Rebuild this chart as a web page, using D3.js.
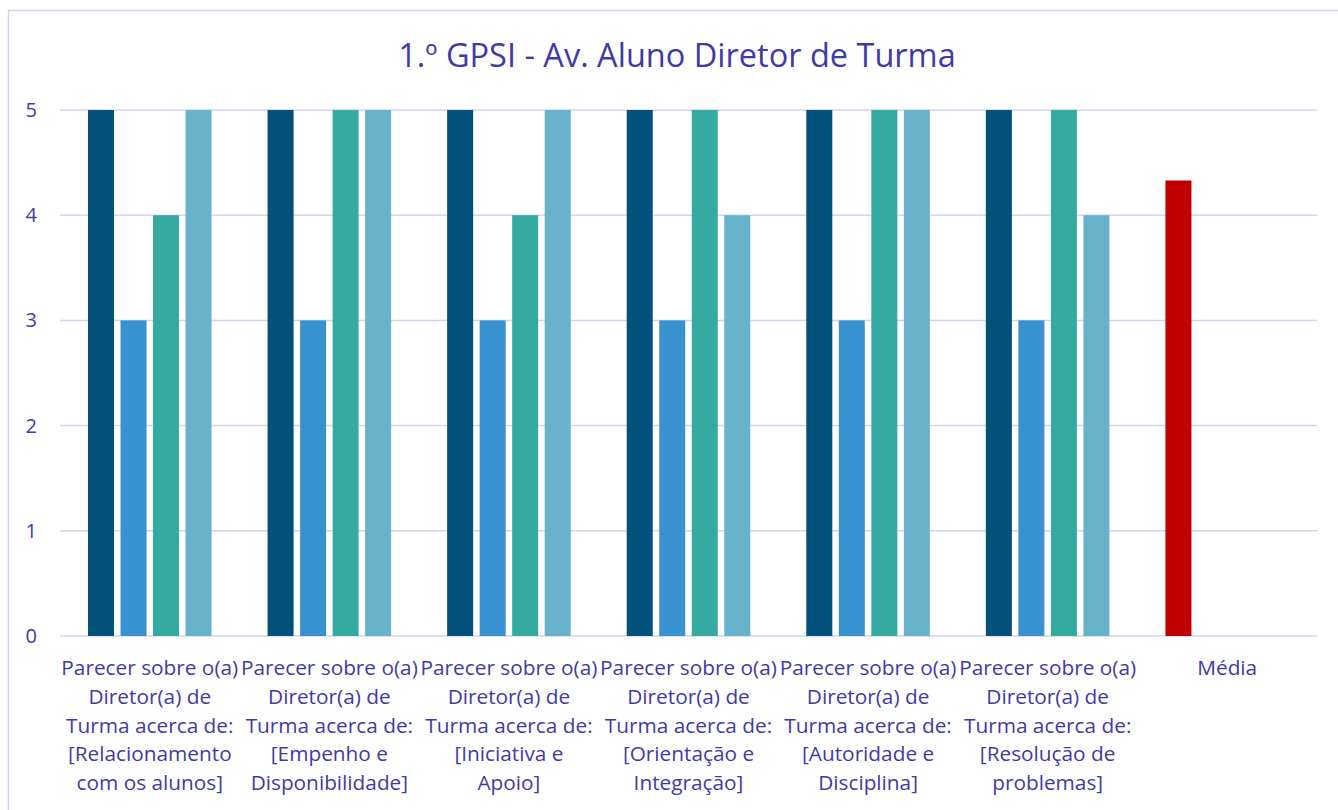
<!DOCTYPE html>
<html>
<head>
<meta charset="utf-8">
<script src="https://cdn.jsdelivr.net/npm/d3@7"></script>
<style>
  body { margin: 0; background: #fff; }
  text { font-family: "Open Sans", sans-serif; fill: #3f3ba6; }
</style>
</head>
<body>
<div class="chart"></div>
<script>
var title = "1.º GPSI - Av. Aluno Diretor de Turma";

var categories = ["Relacionamento", "Empenho", "Iniciativa", "Orientacao", "Autoridade", "Resolucao", "Media"];

var categoryLabels = [
    ["Parecer sobre o(a)", "Diretor(a) de", "Turma acerca de:", "[Relacionamento", "com os alunos]"],
    ["Parecer sobre o(a)", "Diretor(a) de", "Turma acerca de:", "[Empenho e", "Disponibilidade]"],
    ["Parecer sobre o(a)", "Diretor(a) de", "Turma acerca de:", "[Iniciativa e", "Apoio]"],
    ["Parecer sobre o(a)", "Diretor(a) de", "Turma acerca de:", "[Orientação e", "Integração]"],
    ["Parecer sobre o(a)", "Diretor(a) de", "Turma acerca de:", "[Autoridade e", "Disciplina]"],
    ["Parecer sobre o(a)", "Diretor(a) de", "Turma acerca de:", "[Resolução de", "problemas]"],
    ["Média"]
];

var series1 = [5, 5, 5, 5, 5, 5, 4.33];
var series2 = [3, 3, 3, 3, 3, 3, null];
var series3 = [4, 5, 4, 5, 5, 5, null];
var series4 = [5, 5, 5, 4, 5, 4, null];

var seriesList = [series1, series2, series3, series4];
var seriesColors = ["#02517a", "#3892cf", "#35aaa1", "#67b3cb"];
var meanColor = "#c00000";

var yTicks = [0, 1, 2, 3, 4, 5];

var svgWidth = 1338;
var svgHeight = 810;

var margin = { top: 110, right: 21, bottom: 174, left: 60 };
var width = svgWidth - margin.left - margin.right;
var height = svgHeight - margin.top - margin.bottom;

var svg = d3.select(".chart")
    .append("svg")
    .attr("width", svgWidth)
    .attr("height", svgHeight);

// outer frame
svg.append("rect")
    .attr("x", 8.5)
    .attr("y", 10.5)
    .attr("width", 1340)
    .attr("height", 820)
    .attr("fill", "none")
    .attr("stroke", "#d2cfef")
    .attr("stroke-width", 1.5);

svg.append("text")
    .attr("x", 677)
    .attr("y", 67)
    .attr("text-anchor", "middle")
    .style("font-size", "32.5px")
    .text(title);

var chartGroup = svg.append("g")
    .attr("transform", `translate(${margin.left}, ${margin.top})`);

var xScale = d3.scaleBand()
    .domain(categories)
    .range([0, width])
    .padding(0);

var innerScale = d3.scaleBand()
    .domain(d3.range(seriesList.length))
    .range([28, xScale.bandwidth() - 28])
    .paddingInner(0.2);

var yScale = d3.scaleLinear()
    .domain([0, 5])
    .range([height, 0]);

// gridlines
chartGroup.selectAll(".grid")
    .data(yTicks)
    .enter()
    .append("line")
    .attr("x1", 0)
    .attr("x2", width)
    .attr("y1", d => yScale(d))
    .attr("y2", d => yScale(d))
    .attr("stroke", "#d6d3ef")
    .attr("stroke-width", 1.5);

// y axis labels
var leftAxis = d3.axisLeft(yScale)
    .tickValues(yTicks)
    .tickFormat(d3.format("d"))
    .tickSize(0)
    .tickPadding(23);

var yAxis = chartGroup.append("g").call(leftAxis);
yAxis.select(".domain").remove();
yAxis.selectAll("text")
    .style("font-size", "20px")
    .attr("fill", null);

// bars
var barData = [];
categories.forEach(function (c, i) {
    seriesList.forEach(function (s, j) {
        if (s[i] != null) {
            barData.push({ cat: c, idx: j, value: s[i], color: c === "Media" ? meanColor : seriesColors[j] });
        }
    });
});

chartGroup.selectAll(".bar")
    .data(barData)
    .enter()
    .append("rect")
    .attr("class", "bar")
    .attr("x", d => xScale(d.cat) + innerScale(d.idx))
    .attr("width", innerScale.bandwidth())
    .attr("y", d => yScale(d.value))
    .attr("height", d => height - yScale(d.value))
    .attr("fill", d => d.color);

// category labels
var labelGroup = chartGroup.selectAll(".catLabel")
    .data(categories)
    .enter()
    .append("text")
    .attr("class", "catLabel")
    .attr("text-anchor", "middle")
    .attr("transform", d => `translate(${xScale(d) + xScale.bandwidth() / 2}, ${height + 39})`)
    .style("font-size", "20.8px");

labelGroup.each(function (d, i) {
    var t = d3.select(this);
    categoryLabels[i].forEach(function (line, k) {
        t.append("tspan")
            .attr("x", 0)
            .attr("y", k * 28.8)
            .text(line);
    });
});
</script>
</body>
</html>
